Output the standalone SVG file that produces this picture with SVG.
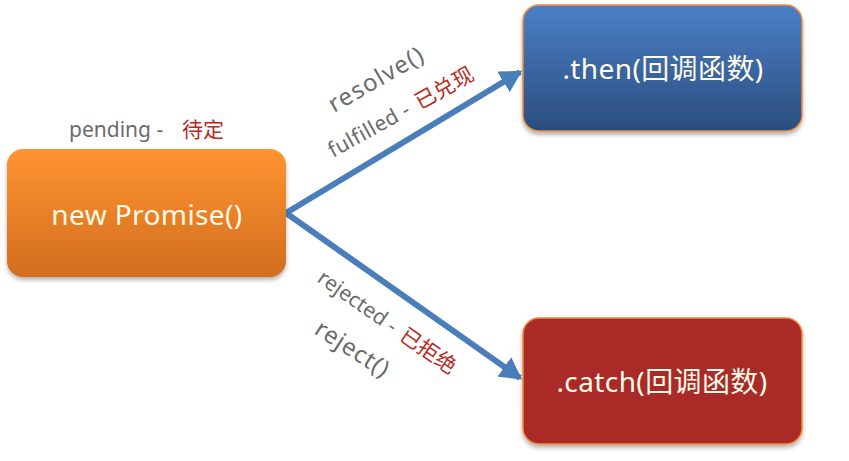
<svg xmlns="http://www.w3.org/2000/svg" width="849" height="461" viewBox="0 0 849 461">
  <style>
    .lbl { font-family: "Noto Sans", "Noto Sans CJK SC", sans-serif; fill: #6b6b6b; }
    .cn { fill: #b52a22; }
    .node-text { font-family: "Noto Sans", "Noto Sans CJK SC", sans-serif; font-size: 28px; fill: #fffbe8; text-anchor: middle; letter-spacing: 0.4px; }
    .edge { stroke: #4a7ebb; stroke-width: 6; fill: none; }
  </style>
  <defs>
    <linearGradient id="gOrange" x1="0" y1="0" x2="0" y2="1">
      <stop offset="0" stop-color="#ff9431"/>
      <stop offset="1" stop-color="#d26d1f"/>
    </linearGradient>
    <linearGradient id="gBlue" x1="0" y1="0" x2="0" y2="1">
      <stop offset="0" stop-color="#4a80c7"/>
      <stop offset="1" stop-color="#2b4d7e"/>
    </linearGradient>
    <filter id="shadow" x="-10%" y="-10%" width="120%" height="130%">
      <feDropShadow dx="0" dy="3" stdDeviation="2" flood-color="#000" flood-opacity="0.3"/>
    </filter>
    <marker id="arrow" viewBox="0 0 10 10" refX="8" refY="5" markerWidth="4" markerHeight="4" orient="auto" markerUnits="strokeWidth">
      <path d="M0,0 L9,5 L0,10 Z" fill="#4a7ebb"/>
    </marker>
  </defs>

  <g id="connectors">
    <line class="edge" x1="286" y1="213" x2="520" y2="72" marker-end="url(#arrow)"/>
    <line class="edge" x1="286" y1="213" x2="520" y2="378" marker-end="url(#arrow)"/>
    <g class="lbl">
      <text transform="translate(334,113) rotate(-30)" font-size="24" letter-spacing="1.3">resolve()</text>
      <text transform="translate(333,158) rotate(-29)" font-size="21" letter-spacing="0.4">fulfilled - <tspan class="cn" dx="3">已兑现</tspan></text>
      <text transform="translate(316,281) rotate(35)" font-size="21">rejected - <tspan class="cn" dx="3">已拒绝</tspan></text>
      <text transform="translate(313,333) rotate(33)" font-size="24" letter-spacing="0.8">reject()</text>
    </g>
  </g>

  <g id="promise">
    <text class="lbl" x="69" y="137" font-size="21">pending - <tspan class="cn" x="182">待定</tspan></text>
    <rect x="7" y="149" width="279" height="128" rx="16" fill="url(#gOrange)" filter="url(#shadow)"/>
    <text class="node-text" x="147" y="225">new Promise()</text>
  </g>

  <g id="then">
    <rect x="523" y="5" width="279" height="126" rx="16" fill="url(#gBlue)" stroke="#f08c3a" stroke-width="1.5" filter="url(#shadow)"/>
    <text class="node-text" x="663" y="79">.then(回调函数)</text>
  </g>

  <g id="catch">
    <rect x="523" y="318" width="279" height="126" rx="16" fill="#a92a25" stroke="#f08c3a" stroke-width="1.5" filter="url(#shadow)"/>
    <text class="node-text" x="662" y="392">.catch(回调函数)</text>
  </g>
</svg>
